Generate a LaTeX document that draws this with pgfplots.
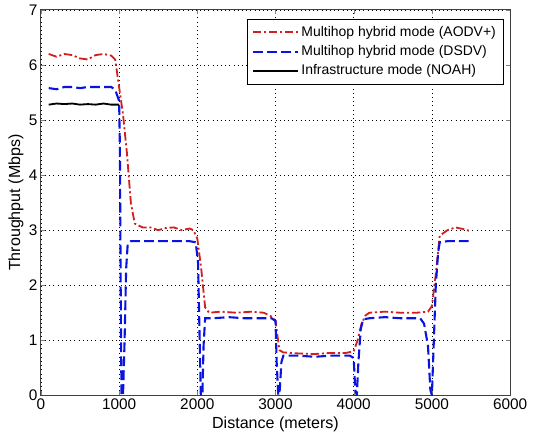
\documentclass[border=0pt]{standalone}
\usepackage{pgfplots}
\pgfplotsset{compat=1.18}
\usepackage{fontspec}
\setmainfont{Liberation Sans}
\definecolor{aodvred}{RGB}{210,30,30}
\definecolor{dsdvblue}{RGB}{10,20,225}
\begin{document}
\begin{tikzpicture}
\begin{axis}[
    name=ax,
    scale only axis,
    width=336pt, height=276pt,
    xmin=0, xmax=6000, ymin=0, ymax=7,
    xtick={0,1000,...,6000},
    ytick={0,1,...,7},
    xlabel={Distance (meters)},
    ylabel={Throughput (Mbps)},
    label style={font=\fontsize{11.5}{13}\selectfont},
    tick label style={font=\fontsize{11}{13}\selectfont},
    xlabel style={yshift=1.5pt},
    ylabel style={yshift=-3pt},
    xticklabel style={yshift=1pt},
    yticklabel style={xshift=1pt},
    /pgf/number format/assume math mode=true,
    /pgf/number format/1000 sep={},
    tick align=inside,
    tick pos=both,
    major tick length=3pt,
    xmajorgrids, ymajorgrids,
    grid style={black, dash pattern=on 0.6pt off 2.4pt, line width=0.5pt},
    axis line style={black!75, line width=0.7pt},
    legend style={at={([xshift=-5pt,yshift=-6.5pt]rel axis cs:1,1)}, anchor=north east, draw=black,
        font=\normalsize, row sep=1pt, inner sep=3pt},
    legend image code/.code={\draw[#1] (0pt,0pt) -- (32pt,0pt);},
    legend cell align=left,
]
\addplot[aodvred, dash pattern=on 6pt off 2pt on 1.5pt off 2pt, line width=1.3pt] coordinates {
(100,6.2) (200,6.15) (300,6.2) (400,6.18) (500,6.12) (600,6.1) (700,6.18) (800,6.2) (900,6.17)
(950,6.1) (1000,5.6) (1050,5.1) (1100,4.4) (1150,3.5) (1200,3.12) (1300,3.05) (1400,3.05)
(1500,3.0) (1600,3.04) (1700,3.05) (1800,3.0) (1900,3.03) (1950,3.0) (2000,2.85) (2050,2.3)
(2100,1.6) (2150,1.5) (2300,1.52) (2500,1.5) (2700,1.52) (2850,1.5) (2950,1.43) (3000,1.35)
(3050,0.82) (3100,0.78) (3300,0.76) (3500,0.75) (3700,0.77) (3900,0.77) (4000,0.8) (4050,1.0)
(4100,1.3) (4150,1.45) (4200,1.5) (4400,1.52) (4600,1.5) (4800,1.5) (4950,1.52) (5000,1.62)
(5050,2.2) (5100,2.9) (5200,3.0) (5300,3.05) (5400,3.02) (5500,2.98)
};
\addlegendentry{Multihop hybrid mode (AODV+)}
\addplot[dsdvblue, dash pattern=on 7pt off 3pt, line width=1.5pt] coordinates {
(100,5.58) (200,5.56) (300,5.6) (400,5.6) (500,5.58) (600,5.6) (700,5.6) (800,5.6) (900,5.6)
(950,5.55) (1000,5.35) (1010,4.5) (1020,2.0) (1030,0) (1050,0) (1070,1.0) (1090,2.3) (1110,2.75)
(1150,2.8) (1300,2.8) (1500,2.8) (1700,2.8) (1900,2.8) (1980,2.78) (2010,2.4) (2030,1.0)
(2045,0) (2065,0) (2080,0.9) (2100,1.4) (2200,1.4) (2400,1.42) (2600,1.4) (2800,1.4) (2950,1.4)
(3000,1.35) (3015,0.6) (3035,0) (3055,0.1) (3075,0.6) (3100,0.72) (3300,0.72) (3500,0.7)
(3700,0.72) (3950,0.72) (4000,0.68) (4020,0.1) (4040,0) (4060,0.6) (4090,1.2) (4120,1.38)
(4200,1.4) (4400,1.42) (4600,1.4) (4850,1.4) (4900,1.3) (4950,0.9) (4980,0.1) (5000,0)
(5020,0.8) (5050,2.0) (5080,2.6) (5100,2.78) (5200,2.8) (5350,2.8) (5500,2.8)
};
\addlegendentry{Multihop hybrid mode (DSDV)}
\addplot[black, line width=1.3pt] coordinates {
(100,5.28) (200,5.3) (300,5.29) (400,5.3) (500,5.28) (600,5.29) (700,5.28) (800,5.3) (900,5.28)
(1000,5.28)
};
\addlegendentry{Infrastructure mode (NOAH)}
\end{axis}
\path ([shift={(-29.3pt,-33pt)}]ax.south west) rectangle ([shift={(25pt,5.7pt)}]ax.north east);
\end{tikzpicture}
\end{document}
